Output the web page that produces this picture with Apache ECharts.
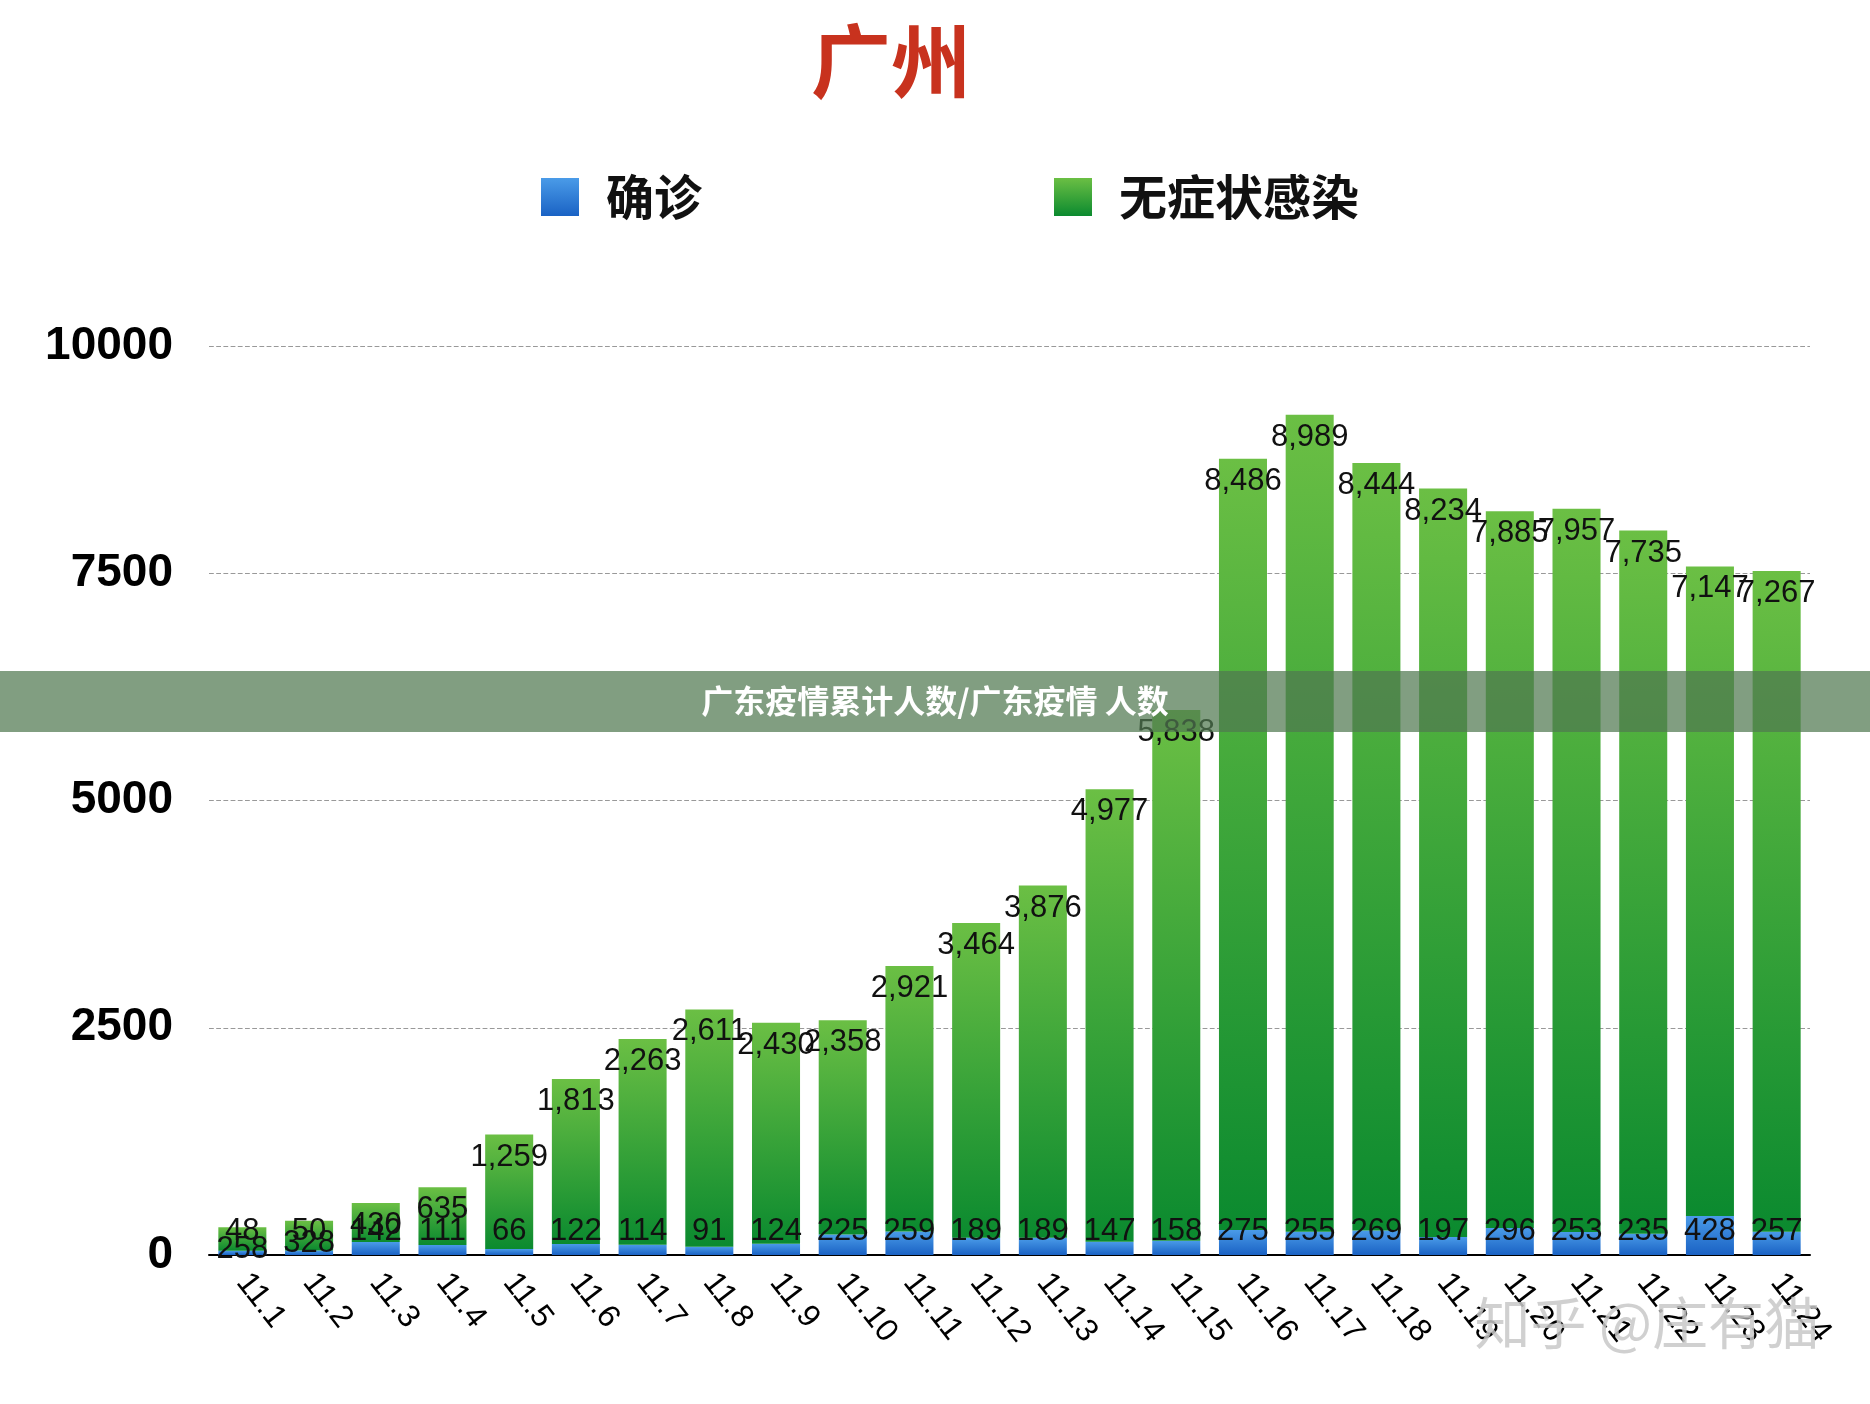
<!DOCTYPE html>
<html><head><meta charset="utf-8">
<script src="https://cdn.jsdelivr.net/npm/echarts@6/dist/echarts.min.js"></script>
<style>html,body{margin:0;padding:0;background:#fff}#c{width:1870px;height:1404px}</style>
</head><body><div id="c"></div>
<script>
const categories = ['11.1','11.2','11.3','11.4','11.5','11.6','11.7','11.8','11.9','11.10','11.11','11.12','11.13','11.14','11.15','11.16','11.17','11.18','11.19','11.20','11.21','11.22','11.23','11.24'];
const confirmed = [48,50,142,111,66,122,114,91,124,225,259,189,189,147,158,275,255,269,197,296,253,235,428,257];
const asymptomatic = [258,328,430,635,1259,1813,2263,2611,2430,2358,2921,3464,3876,4977,5838,8486,8989,8444,8234,7885,7957,7735,7147,7267];
const yTicks = [0,2500,5000,7500,10000];

const chart = echarts.init(document.getElementById('c'));
const fmt = p => p.value.toLocaleString('en-US');
const font = 'Helvetica, "Liberation Sans", Arial, "Noto Sans CJK SC", sans-serif';
chart.setOption({
  animation:false,
  title:{text:'广州',left:806,top:16,textStyle:{color:'#c8321e',fontSize:80,fontWeight:'bold',fontFamily:'"Noto Sans CJK SC"'}},
  legend:{top:168,left:536,itemGap:352,itemWidth:38,itemHeight:38,icon:'rect',
    textStyle:{fontSize:48,fontWeight:'bold',color:'#111',fontFamily:'"Noto Sans CJK SC"',padding:[0,0,0,22]},
    data:['确诊','无症状感染']},
  grid:{left:209,right:60,top:346,bottom:149},
  xAxis:{type:'category',data:categories,
    axisLine:{lineStyle:{color:'#000',width:2}},axisTick:{show:false},
    axisLabel:{rotate:-52,fontSize:32,color:'#000',margin:22,fontFamily:font,interval:0}},
  yAxis:{type:'value',min:0,max:10000,interval:2500,
    axisLine:{show:false},axisTick:{show:false},
    axisLabel:{fontSize:46,fontWeight:'bold',color:'#000',margin:36,fontFamily:font,formatter:v=>String(v)},
    splitLine:{show:true,lineStyle:{type:'dashed',color:'#999',width:1.2}}},
  series:[
    {name:'确诊',type:'bar',stack:'s',data:confirmed,barCategoryGap:'28%',
      itemStyle:{color:new echarts.graphic.LinearGradient(0,0,0,1,[{offset:0,color:'#4a9be8'},{offset:1,color:'#1a62c4'}])},
      label:{show:true,position:'insideBottom',distance:8,formatter:fmt,fontSize:31,color:'#111',fontFamily:font}},
    {name:'无症状感染',type:'bar',stack:'s',data:asymptomatic,
      itemStyle:{color:new echarts.graphic.LinearGradient(0,0,0,1,[{offset:0,color:'#6bbf44'},{offset:1,color:'#0b8a2f'}])},
      label:{show:true,position:'top',distance:-38,formatter:fmt,fontSize:31,color:'#111',fontFamily:font}}
  ],
  graphic:[
    {type:'rect',left:0,top:671,shape:{width:1870,height:61},style:{fill:'rgba(80,120,80,0.72)'},z:100},
    {type:'text',left:'center',top:685,style:{text:'广东疫情累计人数/广东疫情 人数',fill:'#fff',font:'bold 32px "Noto Sans CJK SC"'},z:101},
    {type:'text',right:50,top:1295,style:{text:'知乎 @庄有猫',fill:'rgba(200,200,200,0.85)',font:'56px "Noto Sans CJK SC"'},z:101}
  ]
});
</script></body></html>
